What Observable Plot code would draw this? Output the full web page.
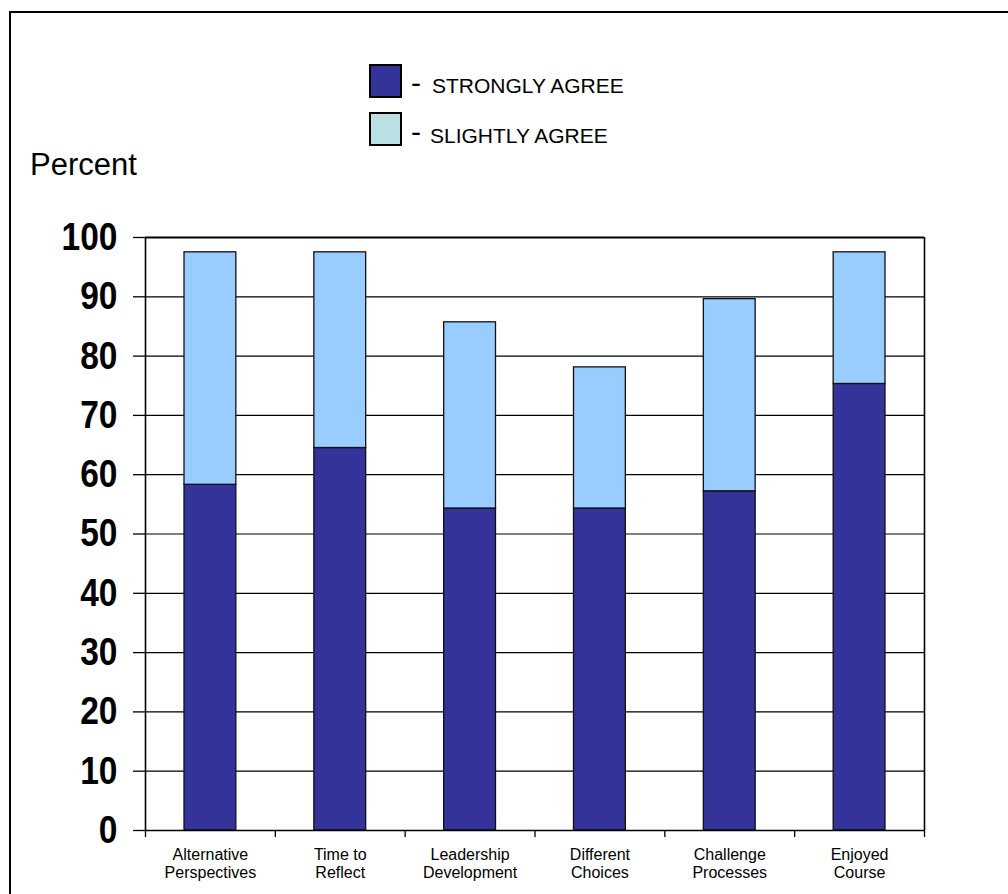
<!DOCTYPE html>
<html>
<head>
<meta charset="utf-8">
<script src="https://cdn.jsdelivr.net/npm/d3@7"></script>
<script src="https://cdn.jsdelivr.net/npm/@observablehq/plot@0.6"></script>
<style>
  html, body { margin: 0; padding: 0; background: #fff; }
  #wrap { position: relative; width: 1008px; height: 894px; overflow: hidden; font-family: "Liberation Sans", Arial, sans-serif; }
  #chart { position: absolute; left: 0; top: 0; }
  #overlay { position: absolute; left: 0; top: 0; pointer-events: none; }
</style>
</head>
<body>
<div id="wrap">
  <div id="chart"></div>
  <svg id="overlay" width="1008" height="894">
    <!-- outer frame (left and top edges visible) -->
    <path d="M10,894 V12 H1008" fill="none" stroke="#000" stroke-width="2"/>
    <!-- legend -->
    <rect x="370" y="65" width="31" height="32" fill="#333399" stroke="#000" stroke-width="2"/>
    <text x="411" y="93" font-size="30" font-family="Liberation Sans, Arial, sans-serif">-</text>
    <text x="432" y="93" font-size="21" font-family="Liberation Sans, Arial, sans-serif">STRONGLY AGREE</text>
    <rect x="370" y="113" width="31" height="32" fill="#BBE0E3" stroke="#000" stroke-width="2"/>
    <text x="411" y="142" font-size="30" font-family="Liberation Sans, Arial, sans-serif">-</text>
    <text x="430" y="142.5" font-size="21" font-family="Liberation Sans, Arial, sans-serif">SLIGHTLY AGREE</text>
    <!-- y axis title -->
    <text x="30" y="175" font-size="31" font-family="Liberation Sans, Arial, sans-serif">Percent</text>
  </svg>
</div>
<script>
// Survey items (x axis) and response percentages per item
const categories = [
  "Alternative\nPerspectives",
  "Time to\nReflect",
  "Leadership\nDevelopment",
  "Different\nChoices",
  "Challenge\nProcesses",
  "Enjoyed\nCourse"
];
const stronglyAgree = [58.3, 64.5, 54.3, 54.3, 57.2, 75.3];
const slightlyAgree = [39.2, 33.0, 31.4, 23.8, 32.4, 22.2];
const seriesNames = ["Strongly agree", "Slightly agree"];
const seriesColors = ["#333399", "#99CCFF"];
const yTicks = [0, 10, 20, 30, 40, 50, 60, 70, 80, 90, 100];

// Long table: strongly agree rows first so they stack at the bottom
const rows = [];
categories.forEach((c, i) => rows.push({i, category: c, series: seriesNames[0], value: stronglyAgree[i]}));
categories.forEach((c, i) => rows.push({i, category: c, series: seriesNames[1], value: slightlyAgree[i]}));

const n = categories.length;
const slots = d3.range(n + 1);
const centers = d3.range(n).map(i => i + 0.5);

const font = "Liberation Sans, Arial, sans-serif";

const plot = Plot.plot({
  width: 1008,
  height: 894,
  marginLeft: 145,
  marginRight: 84,
  marginTop: 237,
  marginBottom: 64,
  style: {fontFamily: font, background: "transparent", color: "#000"},
  x: {domain: [0, n], axis: null},
  y: {domain: [0, 100], axis: null},
  color: {domain: seriesNames, range: seriesColors},
  marks: [
    // horizontal grid
    Plot.gridY(yTicks, {stroke: "#000", strokeOpacity: 1, strokeWidth: 1.2}),
    // stacked bars
    Plot.rectY(rows, Plot.stackY({
      x1: "i",
      x2: d => d.i + 1,
      y: "value",
      fill: "series",
      stroke: "#111",
      strokeWidth: 1.3,
      insetLeft: 39,
      insetRight: 39
    })),
    // plot frame: top and right edges, plus axis lines
    Plot.ruleY([100], {stroke: "#000", strokeWidth: 2}),
    Plot.ruleX([n], {stroke: "#000", strokeWidth: 1.6}),
    Plot.ruleX([0], {stroke: "#000", strokeWidth: 1.6}),
    Plot.ruleY([0], {stroke: "#000", strokeWidth: 1.6}),
    // y axis
    Plot.axisY({
      ticks: yTicks,
      tickSize: 12,
      tickPadding: 16,
      stroke: "#000",
      strokeWidth: 1.3,
      fontSize: 39,
      fontWeight: "bold",
      fontFamily: font,
      label: null,
      ariaLabel: "y-axis"
    }),
    // x axis tick marks at category boundaries
    Plot.axisX({
      ticks: slots,
      tickSize: 7,
      text: null,
      stroke: "#000",
      strokeWidth: 1.3,
      label: null
    }),
    // x axis category labels
    Plot.axisX({
      ticks: centers,
      tickSize: 0,
      tickPadding: 17,
      tickFormat: v => categories[Math.floor(v)],
      fontSize: 16,
      lineHeight: 1.12,
      label: null
    })
  ]
});

// Condense the bold y tick numerals horizontally (anchored at their right edge)
d3.select(plot).selectAll('g[aria-label="y-axis tick label"] text').each(function () {
  const t = this.getAttribute("transform") || "";
  this.setAttribute("transform", t + " scale(0.86,1)");
});

document.getElementById("chart").appendChild(plot);
</script>
</body>
</html>
